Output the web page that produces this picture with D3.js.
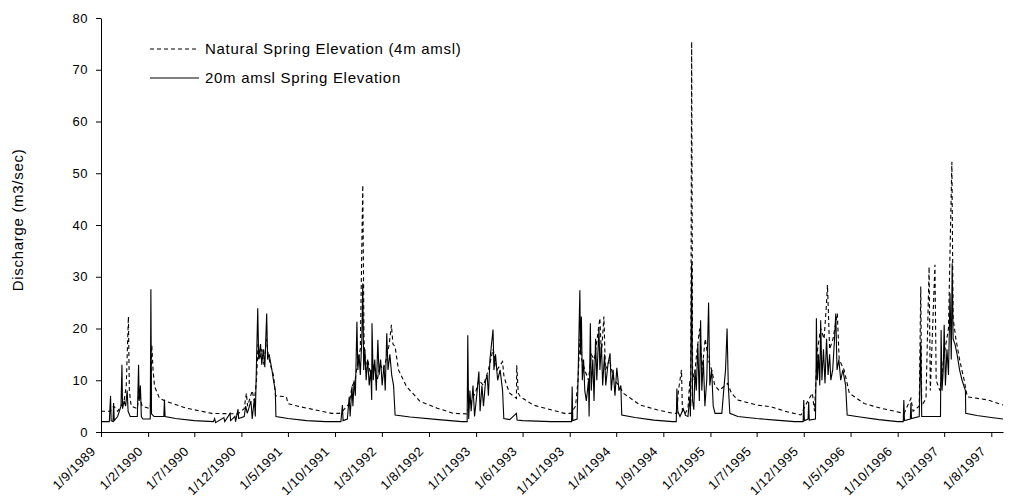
<!DOCTYPE html>
<html>
<head>
<meta charset="utf-8">
<script src="https://cdnjs.cloudflare.com/ajax/libs/d3/7.8.5/d3.min.js"></script>
<style>
  body { margin: 0; background: #fff; }
  svg { display: block; font-family: "Liberation Sans", Arial, sans-serif; }
</style>
</head>
<body>
<div id="wrapper"></div>
<script>
// Discharge series: [date, m3/sec]
const natural = [
  ["1989-09-01",4.0],["1989-10-01",4.0],["1989-10-12",5.0],["1989-10-25",4.0],["1989-11-15",6.0],
  ["1989-11-22",9.0],["1989-11-29",22.3],["1989-12-02",8.0],["1989-12-08",5.0],["1989-12-28",4.5],
  ["1990-01-03",8.0],["1990-01-06",7.0],["1990-01-12",5.0],["1990-02-08",4.5],["1990-02-13",16.8],
  ["1990-02-17",12.0],["1990-02-22",8.8],["1990-03-10",6.5],["1990-04-01",5.9],["1990-06-05",4.6],
  ["1990-08-27",3.6],["1990-11-20",3.5],["1990-12-10",4.5],["1990-12-17",7.5],["1990-12-21",5.0],
  ["1991-01-05",8.0],["1991-01-12",6.0],["1991-01-19",10.0],["1991-01-24",17.0],["1991-01-30",14.0],
  ["1991-02-05",16.0],["1991-02-12",13.0],["1991-02-20",18.0],["1991-02-26",15.0],["1991-03-05",13.0],
  ["1991-03-15",11.0],["1991-03-22",7.0],["1991-04-26",6.8],["1991-05-01",5.5],["1991-06-08",4.9],
  ["1991-09-20",3.6],["1991-10-15",3.6],["1991-10-25",4.0],["1991-11-16",5.5],["1991-11-25",8.8],
  ["1991-12-05",10.0],["1991-12-15",14.0],["1991-12-22",16.0],["1991-12-30",47.7],["1992-01-03",18.0],
  ["1992-01-08",12.0],["1992-01-15",14.0],["1992-01-25",11.0],["1992-02-05",13.0],["1992-02-15",10.0],
  ["1992-02-25",13.0],["1992-03-05",12.0],["1992-03-15",14.0],["1992-03-25",17.0],["1992-04-01",20.7],
  ["1992-04-06",17.0],["1992-04-13",16.5],["1992-04-24",12.0],["1992-05-20",8.8],["1992-07-03",5.9],
  ["1992-08-28",4.6],["1992-10-20",3.6],["1992-12-01",3.5],["1992-12-10",5.0],["1993-01-01",8.0],
  ["1993-01-10",10.0],["1993-01-25",9.0],["1993-02-10",12.0],["1993-02-25",16.0],["1993-03-10",12.0],
  ["1993-03-28",13.6],["1993-04-01",11.0],["1993-04-08",9.4],["1993-04-20",7.5],["1993-05-12",6.5],
  ["1993-05-13",12.9],["1993-05-18",7.5],["1993-05-25",6.8],["1993-07-06",5.2],["1993-09-01",4.3],
  ["1993-10-15",3.6],["1993-11-05",3.6],["1993-11-20",5.0],["1993-11-28",10.0],["1993-12-04",18.0],
  ["1993-12-10",14.0],["1993-12-20",12.0],["1994-01-01",10.0],["1994-01-10",15.0],["1994-01-20",14.0],
  ["1994-02-07",22.0],["1994-02-12",15.0],["1994-02-20",22.3],["1994-02-25",12.0],["1994-03-10",14.0],
  ["1994-03-25",10.0],["1994-04-10",9.0],["1994-04-24",7.5],["1994-06-18",5.2],["1994-08-11",4.3],
  ["1994-10-04",3.6],["1994-10-15",3.6],["1994-10-20",8.0],["1994-10-30",12.0],["1994-11-02",4.0],
  ["1994-11-10",3.5],["1994-11-20",4.5],["1994-11-26",10.0],["1994-11-29",5.0],["1994-12-02",75.4],
  ["1994-12-05",12.0],["1994-12-10",10.0],["1994-12-18",15.0],["1994-12-28",20.0],["1995-01-05",12.0],
  ["1995-01-15",18.0],["1995-01-25",14.0],["1995-02-05",12.0],["1995-02-15",9.0],["1995-03-01",8.0],
  ["1995-03-29",9.4],["1995-04-10",7.5],["1995-05-01",6.2],["1995-07-02",5.2],["1995-08-15",4.9],
  ["1995-10-08",3.9],["1995-11-22",3.3],["1995-12-05",5.0],["1995-12-29",7.5],["1996-01-05",4.0],
  ["1996-01-11",12.0],["1996-01-15",16.0],["1996-01-25",20.0],["1996-02-05",18.0],["1996-02-12",24.0],
  ["1996-02-16",28.4],["1996-02-23",16.0],["1996-03-05",18.0],["1996-03-19",22.9],["1996-03-25",14.0],
  ["1996-04-10",12.0],["1996-04-27",7.5],["1996-06-14",5.5],["1996-08-07",4.6],["1996-10-22",3.6],
  ["1996-11-13",6.5],["1996-11-20",4.0],["1996-12-10",5.0],["1996-12-15",28.1],["1996-12-18",5.0],
  ["1997-01-01",6.5],["1997-01-11",31.9],["1997-01-15",8.0],["1997-01-30",32.3],["1997-02-03",10.0],
  ["1997-02-15",8.0],["1997-03-01",15.0],["1997-03-15",20.0],["1997-03-22",40.6],["1997-03-26",52.2],
  ["1997-03-30",22.0],["1997-04-08",18.0],["1997-04-20",14.0],["1997-05-05",10.0],["1997-05-15",6.8],
  ["1997-07-20",6.2],["1997-09-08",5.2],
]

const raised = [
  ["1989-09-01",2.0],["1989-09-28",2.0],["1989-10-02",7.0],["1989-10-04",2.2],["1989-10-10",2.0],
  ["1989-10-12",5.6],["1989-10-14",2.2],["1989-10-25",3.0],["1989-11-05",5.0],["1989-11-08",13.0],
  ["1989-11-10",4.5],["1989-11-15",6.0],["1989-11-20",5.0],["1989-11-25",8.0],["1989-11-28",4.0],
  ["1989-12-05",3.0],["1989-12-28",3.0],["1990-01-01",13.0],["1990-01-03",6.0],["1990-01-07",9.0],
  ["1990-01-10",3.0],["1990-01-15",2.5],["1990-02-08",2.5],["1990-02-10",27.6],["1990-02-12",3.5],
  ["1990-02-20",3.0],["1990-03-24",3.0],["1990-03-26",6.3],["1990-03-28",3.0],["1990-05-01",2.6],
  ["1990-07-01",2.2],["1990-09-01",2.0],["1990-09-05",2.6],["1990-09-08",1.8],["1990-10-05",2.8],
  ["1990-10-08",2.0],["1990-10-25",3.6],["1990-10-27",2.2],["1990-11-10",3.0],["1990-11-12",2.0],
  ["1990-11-20",4.4],["1990-11-22",2.6],["1990-12-10",3.0],["1990-12-15",5.0],["1990-12-20",3.6],
  ["1991-01-01",6.0],["1991-01-05",2.5],["1991-01-12",6.5],["1991-01-15",3.0],["1991-01-19",13.6],
  ["1991-01-23",23.9],["1991-01-26",14.0],["1991-02-01",17.0],["1991-02-05",13.0],["1991-02-10",16.0],
  ["1991-02-15",12.5],["1991-02-21",22.9],["1991-02-24",14.0],["1991-03-01",15.0],["1991-03-10",12.0],
  ["1991-03-15",10.0],["1991-03-21",8.0],["1991-03-23",3.0],["1991-05-01",2.6],["1991-07-01",2.2],
  ["1991-09-01",2.0],["1991-10-20",2.0],["1991-10-25",5.2],["1991-10-27",2.2],["1991-11-10",2.5],
  ["1991-11-16",6.8],["1991-11-19",3.0],["1991-11-25",8.8],["1991-11-28",5.0],["1991-12-02",10.0],
  ["1991-12-06",7.0],["1991-12-11",21.3],["1991-12-14",12.0],["1991-12-18",15.0],["1991-12-22",11.0],
  ["1991-12-27",18.0],["1991-12-30",28.7],["1992-01-02",12.0],["1992-01-06",16.0],["1992-01-10",10.0],
  ["1992-01-15",14.0],["1992-01-20",9.0],["1992-01-25",12.0],["1992-01-28",6.2],["1992-01-29",21.0],
  ["1992-02-02",10.0],["1992-02-07",14.0],["1992-02-12",8.0],["1992-02-17",17.8],["1992-02-21",11.0],
  ["1992-02-26",14.0],["1992-03-02",9.0],["1992-03-08",13.0],["1992-03-12",8.0],["1992-03-17",19.1],
  ["1992-03-21",12.0],["1992-03-27",15.0],["1992-04-02",11.0],["1992-04-08",9.0],["1992-04-13",3.3],
  ["1992-06-01",2.9],["1992-09-01",2.4],["1992-11-15",2.0],["1992-12-03",2.0],["1992-12-05",18.7],
  ["1992-12-08",2.5],["1992-12-12",8.0],["1992-12-16",4.0],["1992-12-22",9.0],["1992-12-27",3.0],
  ["1993-01-03",7.0],["1993-01-10",11.7],["1993-01-14",4.0],["1993-01-20",9.0],["1993-01-25",5.0],
  ["1993-02-01",10.0],["1993-02-06",11.0],["1993-02-10",7.0],["1993-02-15",14.0],["1993-02-25",19.8],
  ["1993-02-28",12.0],["1993-03-05",15.0],["1993-03-12",10.0],["1993-03-20",12.0],["1993-03-28",8.0],
  ["1993-04-01",2.6],["1993-04-20",2.4],["1993-05-12",3.6],["1993-05-14",2.3],["1993-06-01",2.2],
  ["1993-09-01",2.0],["1993-11-07",2.0],["1993-11-09",8.8],["1993-11-11",2.2],["1993-11-25",2.5],
  ["1993-11-28",10.0],["1993-12-04",27.4],["1993-12-06",15.0],["1993-12-09",22.3],["1993-12-12",10.0],
  ["1993-12-16",14.0],["1993-12-20",8.0],["1993-12-25",6.0],["1994-01-01",10.0],["1994-01-03",3.0],
  ["1994-01-07",21.0],["1994-01-10",8.0],["1994-01-15",14.0],["1994-01-19",6.0],["1994-01-24",18.0],
  ["1994-01-28",10.0],["1994-02-04",20.3],["1994-02-07",12.0],["1994-02-12",17.0],["1994-02-16",9.0],
  ["1994-02-22",15.0],["1994-02-26",9.0],["1994-03-05",13.0],["1994-03-12",15.2],["1994-03-16",8.0],
  ["1994-03-22",12.0],["1994-03-28",7.0],["1994-04-03",12.4],["1994-04-10",8.0],["1994-04-16",9.0],
  ["1994-04-19",3.3],["1994-06-01",2.8],["1994-08-01",2.3],["1994-10-01",2.0],["1994-10-13",2.0],
  ["1994-10-15",8.4],["1994-10-18",4.0],["1994-10-25",3.0],["1994-11-05",4.5],["1994-11-12",3.2],
  ["1994-11-20",3.0],["1994-11-26",6.8],["1994-11-28",3.0],["1994-12-02",32.6],["1994-12-05",6.0],
  ["1994-12-09",4.3],["1994-12-13",12.0],["1994-12-17",8.0],["1994-12-22",17.0],["1994-12-27",6.0],
  ["1994-12-31",21.6],["1995-01-04",8.0],["1995-01-09",14.0],["1995-01-14",5.0],["1995-01-20",10.0],
  ["1995-01-26",25.0],["1995-01-30",9.0],["1995-02-05",12.0],["1995-02-10",5.0],["1995-02-16",3.6],
  ["1995-03-10",3.6],["1995-03-16",8.0],["1995-03-22",12.0],["1995-03-27",20.0],["1995-03-31",9.0],
  ["1995-04-05",3.6],["1995-05-01",3.0],["1995-07-01",2.6],["1995-09-01",2.3],["1995-11-01",2.0],
  ["1995-11-29",2.0],["1995-12-01",6.2],["1995-12-03",2.2],["1995-12-15",2.5],["1995-12-17",5.8],
  ["1995-12-19",2.3],["1996-01-08",2.5],["1996-01-10",12.0],["1996-01-11",22.0],["1996-01-14",10.0],
  ["1996-01-18",15.0],["1996-01-22",9.0],["1996-01-25",21.6],["1996-01-29",10.0],["1996-02-03",16.0],
  ["1996-02-08",9.4],["1996-02-13",18.0],["1996-02-18",11.0],["1996-02-23",15.0],["1996-02-27",10.0],
  ["1996-03-04",12.0],["1996-03-09",17.0],["1996-03-14",22.9],["1996-03-18",12.0],["1996-03-24",14.0],
  ["1996-03-30",10.0],["1996-04-06",12.0],["1996-04-15",9.0],["1996-04-20",3.3],["1996-06-01",2.9],
  ["1996-08-01",2.4],["1996-10-01",2.0],["1996-10-19",2.0],["1996-10-21",6.2],["1996-10-23",2.2],
  ["1996-11-11",2.5],["1996-11-13",5.6],["1996-11-15",2.6],["1996-12-10",3.0],["1996-12-15",17.4],
  ["1996-12-18",3.0],["1997-02-17",3.0],["1997-02-19",19.7],["1997-02-22",8.0],["1997-02-26",12.0],
  ["1997-03-01",20.7],["1997-03-05",9.0],["1997-03-10",16.0],["1997-03-15",11.0],["1997-03-20",26.8],
  ["1997-03-24",14.0],["1997-03-27",32.6],["1997-03-30",18.0],["1997-04-05",17.0],["1997-04-12",15.0],
  ["1997-04-20",12.0],["1997-04-28",10.0],["1997-05-09",8.0],["1997-05-10",3.6],["1997-06-15",3.2],
  ["1997-08-01",2.8],["1997-09-08",2.5],
]

const tickDates = [
  "1989-09-01","1990-02-01","1990-07-01","1990-12-01","1991-05-01","1991-10-01","1992-03-01",
  "1992-08-01","1993-01-01","1993-06-01","1993-11-01","1994-04-01","1994-09-01","1995-02-01",
  "1995-07-01","1995-12-01","1996-05-01","1996-10-01","1997-03-01","1997-08-01",
]
const yTicks = [0, 10, 20, 30, 40, 50, 60, 70, 80]
const seriesNames = ["Natural Spring Elevation (4m amsl)", "20m amsl Spring Elevation"]

function drawChart() {
    const parseDate = d3.timeParse("%Y-%m-%d")
    const xAccessor = d => parseDate(d[0])
    const yAccessor = d => d[1]

  // Dimensions
    let dimensions = {
        width: 1013,
        height: 498,
        margin: {
            top: 18,
            right: 10,
            bottom: 66,
            left: 101,
        },
    }
    dimensions.boundedWidth = dimensions.width
        - dimensions.margin.left
        - dimensions.margin.right
    dimensions.boundedHeight = dimensions.height
        - dimensions.margin.top
        - dimensions.margin.bottom

  // Canvas
    const svg = d3.select("#wrapper")
        .append("svg")
            .attr("width", dimensions.width)
            .attr("height", dimensions.height)
    const bounds = svg.append("g")
        .attr("transform", `translate(${dimensions.margin.left}, ${dimensions.margin.top})`)

  // Scales
    const xScale = d3.scaleTime()
        .domain([parseDate("1989-09-01"), parseDate("1997-09-08")])
        .range([0, dimensions.boundedWidth])
    const yScale = d3.scaleLinear()
        .domain([0, 80])
        .range([dimensions.boundedHeight, 0])

  // Lines
    const lineGenerator = d3.line()
        .x(d => xScale(xAccessor(d)))
        .y(d => yScale(yAccessor(d)))

    bounds.append("path")
        .attr("d", lineGenerator(natural))
        .attr("fill", "none")
        .attr("stroke", "#000")
        .attr("stroke-width", 1.1)
        .attr("stroke-dasharray", "4,3")

    bounds.append("path")
        .attr("d", lineGenerator(raised))
        .attr("fill", "none")
        .attr("stroke", "#000")
        .attr("stroke-width", 1.1)

  // Axes
    const xAxisGenerator = d3.axisBottom(xScale)
        .tickValues(tickDates.map(parseDate))
        .tickFormat(d3.timeFormat("%-d/%-m/%Y"))
        .tickSize(5)
        .tickSizeOuter(0)
    const xAxis = bounds.append("g")
        .attr("transform", `translate(0, ${dimensions.boundedHeight})`)
        .call(xAxisGenerator)
    xAxis.selectAll("text")
        .attr("x", 0)
        .attr("y", 0)
        .attr("dy", 0)
        .attr("text-anchor", "end")
        .attr("transform", "translate(-5, 20) rotate(-45)")

    const yAxisGenerator = d3.axisLeft(yScale)
        .tickValues(yTicks)
        .tickSize(5)
        .tickPadding(8)
        .tickSizeOuter(0)
    const yAxis = bounds.append("g")
        .call(yAxisGenerator)

    svg.selectAll(".tick text")
        .attr("fill", "#000")
        .style("font-size", "13px")
        .style("letter-spacing", "0.5px")
    svg.selectAll(".domain, .tick line")
        .attr("stroke", "#000")

    const yAxisLabel = svg.append("text")
        .attr("transform", `translate(23, ${dimensions.margin.top + dimensions.boundedHeight / 2 - 5}) rotate(-90)`)
        .attr("text-anchor", "middle")
        .style("font-size", "15px")
        .style("letter-spacing", "0.7px")
        .text("Discharge (m3/sec)")

  // Legend
    const legend = svg.append("g")
        .attr("transform", "translate(150, 49)")
    const legendItems = legend.selectAll("g")
        .data(seriesNames)
        .join("g")
            .attr("transform", (d, i) => `translate(0, ${i * 29})`)
    legendItems.append("line")
        .attr("x1", 0)
        .attr("x2", 49)
        .attr("stroke", "#000")
        .attr("stroke-dasharray", (d, i) => i == 0 ? "4,3" : null)
    legendItems.append("text")
        .attr("x", 55)
        .attr("dy", "0.35em")
        .style("font-size", "15px")
        .style("letter-spacing", "0.7px")
        .text(d => d)
}

drawChart()
</script>
</body>
</html>
